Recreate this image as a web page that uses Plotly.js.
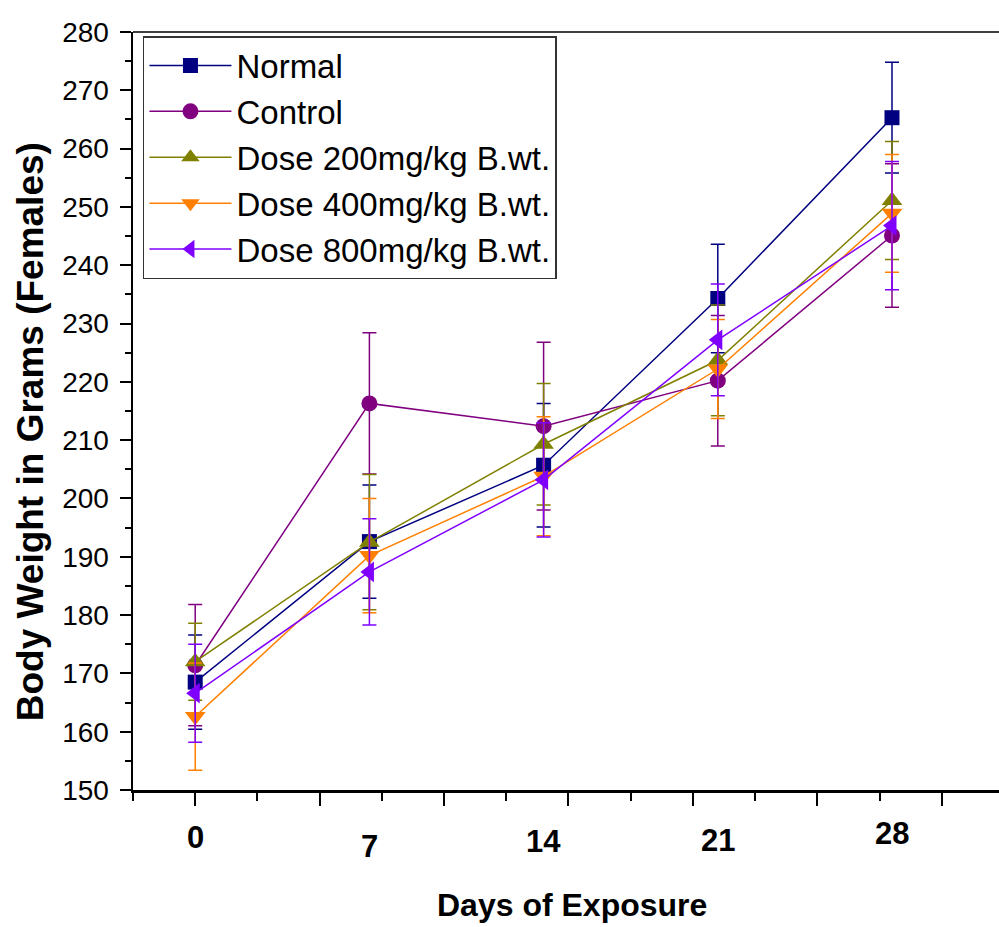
<!DOCTYPE html>
<html>
<head>
<meta charset="utf-8">
<script src="https://cdn.plot.ly/plotly-3.0.1.min.js"></script>
<style>
html,body{margin:0;padding:0;background:#fff;overflow:hidden;}
#chart{width:999px;height:927px;}
</style>
</head>
<body>
<div id="chart"></div>
<script>
// ---- data ----
const days = [0, 7, 14, 21, 28];
const dayLabels = ["0", "7", "14", "21", "28"];
const seriesNames = ["Normal", "Control", "Dose 200mg/kg B.wt.", "Dose 400mg/kg B.wt.", "Dose 800mg/kg B.wt."];
const normalMean = [168.5, 192.6, 205.7, 234.3, 265.3];
const normalErr  = [8.1, 9.7, 10.6, 9.3, 9.5];
const controlMean = [171.4, 216.3, 212.4, 220.2, 245.1];
const controlErr  = [10.4, 12.1, 14.4, 11.2, 12.3];
const dose200Mean = [172.0, 192.5, 209.3, 223.7, 251.1];
const dose200Err  = [6.6, 11.6, 10.4, 9.5, 10.1];
const dose400Mean = [162.6, 190.2, 203.8, 222.2, 248.9];
const dose400Err  = [9.2, 9.8, 10.2, 8.5, 10.1];
const dose800Mean = [166.6, 187.4, 203.2, 227.2, 246.8];
const dose800Err  = [8.4, 9.1, 9.8, 9.6, 11.0];
const xMajorTicks = [0, 5, 10, 15, 20, 25, 30];

// ---- styles ----
const colors = ["#000080", "#800080", "#808000", "#FF8000", "#8000FF"];
const symbols = ["square", "circle", "triangle-up", "triangle-down", "triangle-left"];
const sizes = [15, 16, 18, 18, 18];
const means = [normalMean, controlMean, dose200Mean, dose400Mean, dose800Mean];
const errs = [normalErr, controlErr, dose200Err, dose400Err, dose800Err];

const traces = seriesNames.map((name, i) => ({
  type: "scatter",
  mode: "lines+markers",
  name: name,
  legendgroup: "g" + i,
  x: days,
  y: means[i],
  line: {color: colors[i], width: 1.5},
  marker: {color: colors[i], symbol: symbols[i], size: sizes[i], line: {width: 0}},
  error_y: {type: "data", array: errs[i], visible: true, color: colors[i], thickness: 1.5, width: 7}
}));

const labelShift = [-47, -56, -51, -50, -43];
const FONT = "Liberation Sans, Arial, Helvetica, sans-serif";
const annotations = dayLabels.map((t, i) => ({
  x: days[i], xref: "x", y: 0, yref: "paper",
  text: "<b>" + t + "</b>", showarrow: false,
  xanchor: "center", yanchor: "middle", yshift: labelShift[i],
  font: {family: FONT, size: 31, color: "#000"}
}));
annotations.push({
  x: 0, xref: "paper", xanchor: "center", xshift: -103,
  y: 0.472, yref: "paper", yanchor: "middle",
  text: "<b>Body Weight in Grams (Females)</b>", textangle: -90, showarrow: false,
  font: {family: FONT, size: 37, color: "#000"}
});
annotations.push({
  x: 0.5, xref: "paper", xanchor: "center", xshift: 6,
  y: 0, yref: "paper", yanchor: "middle", yshift: -115,
  text: "<b>Days of Exposure</b>", showarrow: false,
  font: {family: FONT, size: 32, color: "#000"}
});

const layout = {
  width: 999, height: 927,
  margin: {l: 133, r: 0, t: 32, b: 137},
  paper_bgcolor: "#fff", plot_bgcolor: "#fff",
  showlegend: true,
  legend: {
    x: 0.0115, y: 0.9947, xanchor: "left", yanchor: "top",
    bgcolor: "#fff", bordercolor: "#333", borderwidth: 1.5,
    font: {family: FONT, size: 33, color: "#000"},
    tracegroupgap: 0, itemwidth: 82
  },
  xaxis: {
    range: [-2.5, 32.3], showgrid: false, zeroline: false,
    showline: true, linecolor: "#000", linewidth: 2.5,
    tickmode: "array", tickvals: xMajorTicks, showticklabels: false,
    ticks: "outside", ticklen: 13, tickwidth: 2, tickcolor: "#000",
    minor: {dtick: 2.5, tick0: 0, ticks: "outside", ticklen: 8, tickwidth: 2, tickcolor: "#000", showgrid: false}
  },
  yaxis: {
    range: [150, 280], showgrid: false, zeroline: false,
    showline: true, linecolor: "#000", linewidth: 2.5,
    dtick: 10, tick0: 150, ticks: "outside", ticklen: 11, tickwidth: 2, tickcolor: "#000",
    ticklabelstandoff: 5,
    tickfont: {family: FONT, size: 28, color: "#000"},
    minor: {dtick: 5, ticks: "outside", ticklen: 6, tickwidth: 2, tickcolor: "#000", showgrid: false}
  },
  shapes: [{type: "line", xref: "paper", yref: "paper", x0: 0, x1: 1, y0: 1, y1: 1, line: {color: "#000", width: 1.5}}],
  annotations: annotations
};

Plotly.newPlot("chart", traces, layout, {displayModeBar: false, staticPlot: true});
</script>
</body>
</html>
